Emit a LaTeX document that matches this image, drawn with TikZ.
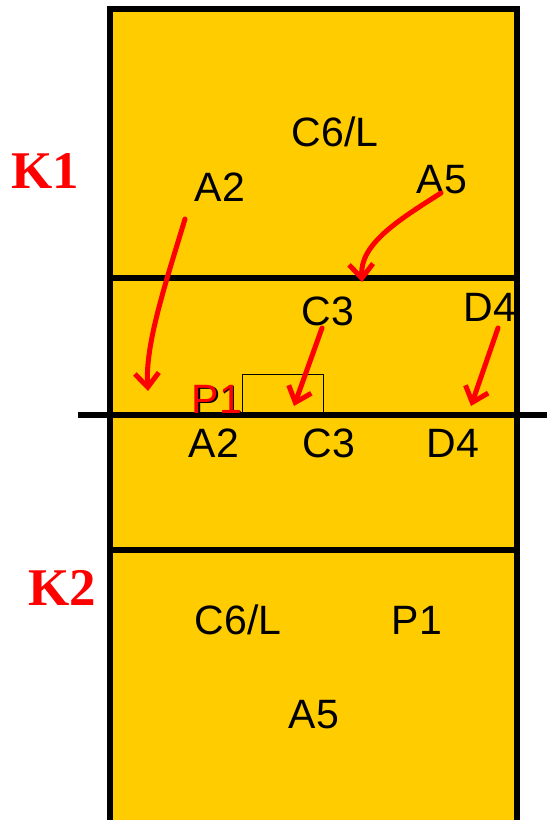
\documentclass[tikz,border=0pt]{standalone}
\usepackage{fontspec}
\setmainfont{Liberation Sans}
\newfontfamily\kfont{Liberation Serif}
\usetikzlibrary{arrows.meta}
\definecolor{court}{HTML}{FFCC00}
\definecolor{arr}{HTML}{FF0000}
\tikzset{
  lbl/.style={anchor=base, inner sep=0pt, font=\fontsize{41}{41}\selectfont},
  klbl/.style={anchor=base, inner sep=0pt, text=arr, font=\kfont\bfseries\fontsize{53}{53}\selectfont},
  courtline/.style={line width=5.5pt},
  movearrow/.style={draw=arr, line width=5pt, line cap=round, -{Straight Barb[length=14pt,width=24pt,line width=5pt]}}
}
\begin{document}
\begin{tikzpicture}[x=1pt,y=-1pt]
\useasboundingbox (0,0) rectangle (547,820);
\clip (0,0) rectangle (547,820);
% court
\fill[court] (110,9) rectangle (517,824);
\draw[courtline] (110,824) -- (110,9) -- (517,9) -- (517,824);
\draw[courtline] (110,278) -- (517,278);
\draw[courtline] (110,550) -- (517,550);
\draw[courtline] (78,415) -- (547,415);
\draw[line width=1.3pt] (242.5,415) -- (242.5,374.5) -- (323.5,374.5) -- (323.5,415);
% labels
\node[klbl] (k1) at (45,188) {K1};
\node[klbl] (k2) at (62,605) {K2};
\node[lbl] (c6a) at (335,146) {C6/L};
\node[lbl] (a2a) at (220,201) {A2};
\node[lbl] (a5a) at (442,193) {A5};
\node[lbl] (c3a) at (328,325) {C3};
\node[lbl] (d4a) at (490,321) {D4};
\node[lbl] (p1s) at (218.5,414.5) {P1};
\node[lbl, text=arr] (p1a) at (217,413) {P1};
\node[lbl] (a2b) at (214,457) {A2};
\node[lbl] (c3b) at (329,457) {C3};
\node[lbl] (d4b) at (453,457) {D4};
\node[lbl] (c6b) at (238,634) {C6/L};
\node[lbl] (p1b) at (417,634) {P1};
\node[lbl] (a5b) at (314,728) {A5};
% arrow ends
\coordinate (s1) at (185,219);
\coordinate (e1) at (148,391);
\coordinate (s2) at (441,193);
\coordinate (e2) at (362,282);
\coordinate (s3) at (322,328);
\coordinate (e3) at (294,406);
\coordinate (s4) at (498,328);
\coordinate (e4) at (471,406);
\draw[movearrow] (s1) .. controls (165,285) and (145,345) .. (e1);
\draw[movearrow] (s2) .. controls (395,222) and (360,245) .. (e2);
\draw[movearrow] (s3) -- (e3);
\draw[movearrow] (s4) -- (e4);
\end{tikzpicture}
\end{document}
